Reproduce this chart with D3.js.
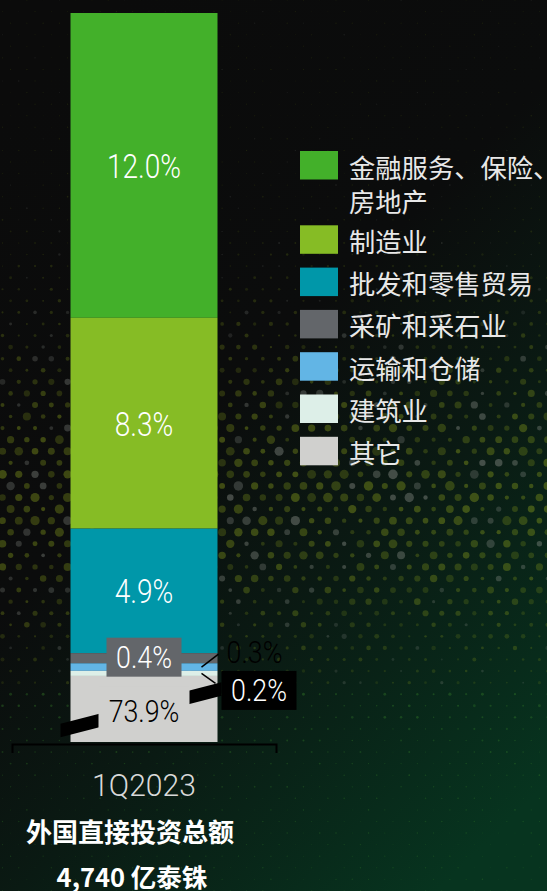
<!DOCTYPE html>
<html>
<head>
<meta charset="utf-8">
<script src="https://cdn.jsdelivr.net/npm/d3@7"></script>
<style>
  html, body { margin: 0; padding: 0; background: #0b0b0b; overflow: hidden; }
  svg { display: block; }
</style>
</head>
<body>
<svg id="chart" width="547" height="891"></svg>
<script>
// ---- data -------------------------------------------------------------
const period = "1Q2023";
const categories = ["金融服务、保险、\n房地产", "制造业", "批发和零售贸易", "采矿和采石业", "运输和仓储", "建筑业", "其它"];
const shares = [12.0, 8.3, 4.9, 0.4, 0.3, 0.2, 73.9];           // % of total, stacked top to bottom
const colors = ["#43B02A", "#86BC25", "#0097A9", "#63666A", "#62B5E5", "#DDEFE8", "#D0D0CE"];
const totalTitle = "外国直接投资总额";
const totalValue = "4,740 亿泰铢";

// ---- layout -----------------------------------------------------------
const W = 547, H = 891;
const plotTop = 13, plotBottom = 742;
const breakLo = 27.4, breakHi = 98.7;   // axis break: the long "其它" segment is cut
const visible = 100 - (breakHi - breakLo);
const yBreak = plotTop + (plotBottom - plotTop) * breakLo / visible;

const svg = d3.select("#chart");
const defs = svg.append("defs");

// background gradient
const bg = defs.append("linearGradient").attr("id", "bg")
  .attr("x1", 0.2).attr("y1", 0).attr("x2", 0.8).attr("y2", 1);
[[0, "#0b0b0b"], [0.42, "#0b0c0c"], [0.66, "#0a1a13"], [1, "#07341f"]]
  .forEach(([o, c]) => bg.append("stop").attr("offset", o).attr("stop-color", c));
svg.append("rect").attr("width", W).attr("height", H).attr("fill", "url(#bg)");

// halftone dot texture
function hash(a, b) {
  const s = Math.sin(a * 127.1 + b * 311.7) * 43758.5453;
  return s - Math.floor(s);
}
const dots = [];
const dx = 16.27, dy = 11.57;
for (let r = 0; r * dy < H + dy; r++) {
  const y = r * dy;
  const off = r % 2 === 0 ? 10.6 : 2.5;
  const g = Math.exp(-Math.pow((y - 490) / 165, 2));
  for (let c = -1; off + c * dx < W + dx; c++) {
    const x = off + c * dx;
    const h1 = hash(r, c), h2 = hash(c + 7.3, r + 1.9);
    const rad = (0.7 + 3.9 * g) * (0.45 + 0.6 * h1);
    const grey = h2 < 0.16;
    let fill;
    if (y > 690) fill = "#3c8a2c";
    else fill = grey ? "#858a83" : "#7e931b";
    const alpha = (0.14 + 0.26 * g) * (0.7 + 0.5 * hash(r + 3.1, c + 5.7)) + (y > 690 ? 0.14 : 0);
    dots.push({ x, y, rad, fill, alpha });
  }
}
svg.append("g").selectAll("circle").data(dots).join("circle")
  .attr("cx", d => d.x).attr("cy", d => d.y).attr("r", d => d.rad)
  .attr("fill", d => d.fill).attr("fill-opacity", d => d.alpha);

// ---- scales -----------------------------------------------------------
const x = d3.scaleBand().domain([period]).range([12, 276]).paddingInner(0).paddingOuter(0.398);
const y = d3.scaleLinear()
  .domain([0, breakLo, breakHi, 100])
  .range([plotTop, yBreak, yBreak, plotBottom]);

let cum = 0;
const segs = shares.map((v, i) => {
  const s = { i, v, c: colors[i], y0: cum, y1: cum + v };
  cum += v;
  return s;
});

const bx = x(period), bw = x.bandwidth(), bcx = bx + bw / 2;

svg.append("g").selectAll("rect").data(segs).join("rect")
  .attr("x", bx).attr("width", bw)
  .attr("y", d => y(d.y0)).attr("height", d => y(d.y1) - y(d.y0))
  .attr("fill", d => d.c);

// bracket axis with period label
const axisG = svg.append("g").attr("transform", `translate(0,${plotBottom + 2})`)
  .call(d3.axisBottom(x).tickSizeInner(0).tickSizeOuter(9).tickPadding(0));
axisG.select(".domain").attr("stroke", "#000").attr("stroke-width", 2);
axisG.selectAll(".tick line").remove();
axisG.selectAll(".tick text")
  .attr("y", 52).attr("dy", null)
  .attr("fill", "#d9d9d9")
  .attr("font-family", "Roboto, 'Liberation Sans', sans-serif")
  .attr("font-weight", 300)
  .attr("font-size", 32)
  .attr("text-anchor", "middle")
  .attr("transform", "scale(0.94,1)");

// axis break band across the cut segment
const slope = -0.258, half = 6.8;
const bandY = xx => yBreak + slope * (xx - bcx);
const bandL = bx - 10, bandR = bx + bw + 4;
svg.append("path")
  .attr("d", `M${bandL},${bandY(bandL) - half}L${bandR},${bandY(bandR) - half}L${bandR},${bandY(bandR) + half}L${bandL},${bandY(bandL) + half}Z`)
  .attr("fill", "#000");

// ---- value labels -----------------------------------------------------
const pctFont = "Roboto, 'Liberation Sans', sans-serif";
const fmt = d => d3.format(".1f")(d) + "%";
function pctText(g, tx, ty, txt, fill, size = 31.5) {
  return g.append("text")
    .attr("x", tx).attr("y", ty)
    .attr("text-anchor", "middle").attr("dominant-baseline", "central")
    .attr("font-family", pctFont).attr("font-weight", 300).attr("font-size", size)
    .attr("fill", fill)
    .attr("transform", `translate(${tx},0) scale(0.85,1) translate(${-tx},0)`)
    .text(txt);
}
const lab = svg.append("g");

// large segments: label centered inside
segs.slice(0, 3).forEach(s => pctText(lab, bcx, (y(s.y0) + y(s.y1)) / 2 + 1, fmt(s.v), "#ffffff", 33));

// 采矿和采石业: grey tag over the bar
{
  const s = segs[3], cy = (y(s.y0) + y(s.y1)) / 2 - 1;
  lab.append("rect").attr("x", bcx - 37.5).attr("y", cy - 19.5).attr("width", 75).attr("height", 39).attr("fill", s.c);
  pctText(lab, bcx, cy, fmt(s.v), "#ffffff");
}
// 运输和仓储: leader line up and to the right
{
  const s = segs[4], sy = (y(s.y0) + y(s.y1)) / 2;
  const x0 = bx + bw - 16;
  lab.append("line").attr("x1", x0).attr("y1", sy).attr("x2", x0 + 17).attr("y2", sy - 13)
    .attr("stroke", "#000").attr("stroke-width", 1.5);
  pctText(lab, x0 + 53, sy - 15, fmt(s.v), "#000000");
}
// 建筑业: leader line down to a black tag
{
  const s = segs[5], sy = (y(s.y0) + y(s.y1)) / 2;
  const x0 = bx + bw - 16;
  lab.append("line").attr("x1", x0).attr("y1", sy).attr("x2", x0 + 14).attr("y2", sy + 10)
    .attr("stroke", "#000").attr("stroke-width", 1.5);
  lab.append("rect").attr("x", bx + bw + 4).attr("y", sy - 2.5).attr("width", 75).attr("height", 39).attr("fill", "#000");
  pctText(lab, bx + bw + 41.5, sy + 17, fmt(s.v), "#ffffff");
}
// 其它: label sits on the break with a backing patch
{
  const s = segs[6];
  lab.append("rect").attr("x", bcx - 45.5).attr("y", yBreak - 22).attr("width", 91).attr("height", 50).attr("fill", s.c);
  pctText(lab, bcx, yBreak + 2, fmt(s.v), "#000000");
}

// ---- legend -----------------------------------------------------------
const legend = svg.append("g").attr("font-family", "'Noto Sans CJK SC', sans-serif").attr("font-size", 26.3).attr("fill", "#e8e8e8");
let ly = 151;
categories.forEach((name, i) => {
  const lines = name.split("\n");
  legend.append("rect").attr("x", 300).attr("y", ly).attr("width", 38).attr("height", 28.5).attr("fill", colors[i]);
  lines.forEach((ln, k) => {
    legend.append("text").attr("x", 349).attr("y", ly + 15 + k * 34)
      .attr("dominant-baseline", "central").text(ln);
  });
  ly += 42.3 + (lines.length - 1) * 32;
});

// ---- total ------------------------------------------------------------
const tot = svg.append("g").attr("font-family", "'Noto Sans CJK SC', sans-serif").attr("font-weight", 700)
  .attr("fill", "#ffffff").attr("text-anchor", "middle");
tot.append("text").attr("x", 130).attr("y", 830).attr("font-size", 26).attr("dominant-baseline", "central").text(totalTitle);
tot.append("text").attr("x", 132).attr("y", 887).attr("font-size", 25.5).text(totalValue);
</script>
</body>
</html>
